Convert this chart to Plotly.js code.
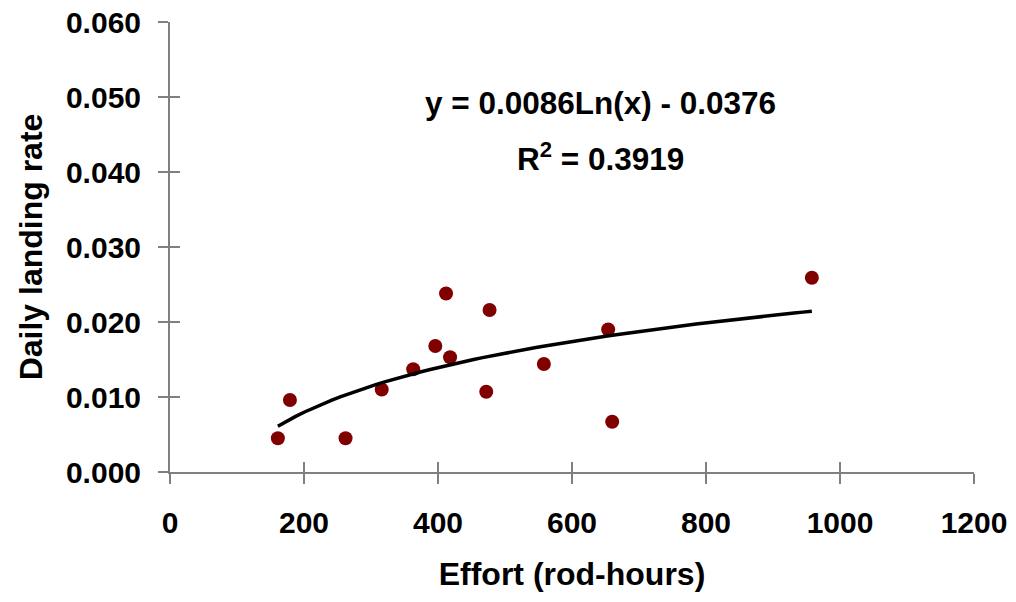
<!DOCTYPE html>
<html>
<head>
<meta charset="utf-8">
<script src="https://cdn.plot.ly/plotly-3.0.1.min.js"></script>
<style>html,body{margin:0;padding:0;background:#fff;}#chart{width:1016px;height:602px;}</style>
</head>
<body>
<div id="chart"></div>
<script>
const effort = [161, 179, 262, 316, 363, 396, 412, 418, 472, 477, 558, 654, 660, 958];
const landingRate = [0.0045, 0.0096, 0.0045, 0.0110, 0.0137, 0.0168, 0.0238, 0.0153, 0.0107, 0.0216, 0.0144, 0.0190, 0.0067, 0.0259];

// Logarithmic trendline coefficients as printed on the chart
const trendA = 0.0086;
const trendB = -0.0376;
const trendLabel = "y = 0.0086Ln(x) - 0.0376";
const r2Label = "R<sup>2</sup> = 0.3919";

const xTicks = [0, 200, 400, 600, 800, 1000, 1200];
const yTicks = [0, 0.01, 0.02, 0.03, 0.04, 0.05, 0.06];

const xMin = Math.min(...effort), xMax = Math.max(...effort);
const trendX = [], trendY = [];
for (let i = 0; i <= 60; i++) {
  const x = xMin + (xMax - xMin) * i / 60;
  trendX.push(x);
  trendY.push(trendA * Math.log(x) + trendB);
}

const fam = "Liberation Sans, Arial, sans-serif";
const tickFont = {family: fam, size: 30, color: "#000", weight: "bold"};
const titleFont = {family: fam, size: 32, color: "#000", weight: "bold"};
const annFont = {family: fam, size: 31.5, color: "#000", weight: "bold"};
const axisGray = "#808080";

const data = [
  {x: effort, y: landingRate, type: "scatter", mode: "markers",
   marker: {color: "#800000", size: 14}, xaxis: "x", yaxis: "y", hoverinfo: "x+y"},
  {x: trendX, y: trendY, type: "scatter", mode: "lines",
   line: {color: "#000", width: 3.5}, xaxis: "x2", yaxis: "y2", hoverinfo: "skip"}
];

const baseX = {range: [0, 1200], tickvals: xTicks, tickmode: "array", showgrid: false, zeroline: false};
const baseY = {range: [0, 0.06], tickvals: yTicks, tickmode: "array", showgrid: false, zeroline: false};

const layout = {
  width: 1016, height: 602,
  margin: {l: 170, r: 42, t: 22, b: 130},
  paper_bgcolor: "#fff", plot_bgcolor: "#fff",
  showlegend: false,
  font: tickFont,
  xaxis: Object.assign({}, baseX, {
    showline: true, linecolor: axisGray, linewidth: 2,
    ticks: "outside", ticklen: 10, tickwidth: 2, tickcolor: axisGray,
    ticktext: xTicks.map(String),
    tickfont: tickFont, ticklabelstandoff: 13,
    title: {text: "Effort (rod-hours)", font: titleFont, standoff: 25}
  }),
  yaxis: Object.assign({}, baseY, {
    showline: true, linecolor: axisGray, linewidth: 2,
    ticks: "outside", ticklen: 10, tickwidth: 2, tickcolor: axisGray,
    tickformat: ".3f", tickfont: tickFont, ticklabelstandoff: 11,
    title: {text: "Daily landing rate", font: titleFont, standoff: 14}
  }),
  xaxis2: Object.assign({}, baseX, {
    overlaying: "x", anchor: "y2", side: "bottom", showline: false,
    ticks: "inside", ticklen: 10, tickwidth: 2, tickcolor: axisGray,
    showticklabels: false
  }),
  yaxis2: Object.assign({}, baseY, {
    overlaying: "y", anchor: "x2", side: "left", showline: false,
    ticks: "inside", ticklen: 10, tickwidth: 2, tickcolor: axisGray,
    showticklabels: false
  }),
  annotations: [
    {text: trendLabel, x: 643, y: 0.0492, xref: "x", yref: "y", showarrow: false, font: annFont, xanchor: "center", yanchor: "middle"},
    {text: r2Label, x: 643, y: 0.0420, xref: "x", yref: "y", showarrow: false, font: annFont, xanchor: "center", yanchor: "middle"}
  ]
};

Plotly.newPlot("chart", data, layout, {displayModeBar: false, staticPlot: true});
</script>
</body>
</html>
